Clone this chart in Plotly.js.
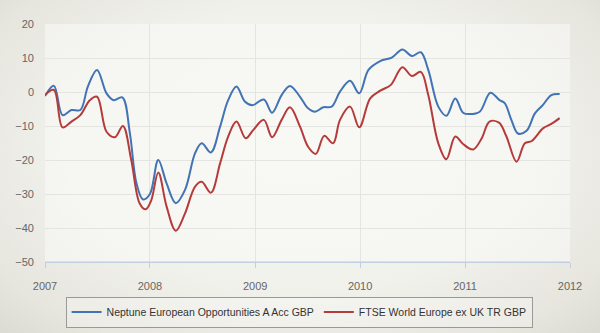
<!DOCTYPE html>
<html>
<head>
<meta charset="utf-8">
<script src="https://cdn.plot.ly/plotly-3.0.1.min.js"></script>
<style>
html,body{margin:0;padding:0;}
body{width:600px;height:333px;overflow:hidden;
background: radial-gradient(ellipse at 50% 45%, #f6f6f2 0%, #f1f1ec 55%, #e6e5de 85%, #dcdbd3 100%);}
#chart{width:600px;height:333px;}
</style>
</head>
<body>
<div id="chart"></div>
<script>
// Series names
const seriesNames = ["Neptune European Opportunities A Acc GBP", "FTSE World Europe ex UK TR GBP"];

// Neptune European Opportunities A Acc GBP (% growth)
const neptuneDates = ["2007-01-01","2007-02-01","2007-03-03","2007-04-03","2007-05-04","2007-05-30","2007-07-01","2007-08-03","2007-08-28","2007-09-27","2007-10-23","2007-11-15","2007-12-08","2008-01-01","2008-01-30","2008-02-28","2008-03-31","2008-05-02","2008-06-06","2008-06-29","2008-07-31","2008-09-01","2008-09-29","2008-10-28","2008-11-26","2008-12-22","2009-01-31","2009-03-01","2009-04-03","2009-05-02","2009-06-06","2009-07-04","2009-07-28","2009-08-26","2009-09-24","2009-10-23","2009-11-27","2009-12-29","2010-01-30","2010-03-12","2010-04-21","2010-05-28","2010-06-30","2010-07-31","2010-08-26","2010-09-30","2010-10-28","2010-11-28","2010-12-25","2011-01-17","2011-02-21","2011-03-30","2011-05-01","2011-05-19","2011-06-11","2011-07-04","2011-08-03","2011-09-01","2011-09-29","2011-10-28","2011-11-26"];
const neptuneValues = [-1.2,1.8,-6.8,-5.3,-5.3,1.6,6.5,-0.4,-2.4,-1.6,-12,-26.8,-31.6,-30,-20,-26.9,-32.7,-28.8,-18,-15.1,-17.8,-10.2,-2.4,1.6,-2.8,-3.9,-2.2,-6.1,-0.9,1.8,-1.4,-4.8,-5.8,-4.5,-4.3,0.1,3.3,-0.4,6.5,9.1,10.1,12.5,10.6,11.7,6.5,-4.3,-7,-1.9,-6.1,-6.5,-5.8,-0.2,-2.4,-3.3,-8.2,-12.2,-11.4,-6.3,-3.8,-0.9,-0.6];

// FTSE World Europe ex UK TR GBP (% growth)
const ftseDates = ["2007-01-01","2007-02-01","2007-03-03","2007-04-03","2007-05-04","2007-06-06","2007-07-01","2007-08-03","2007-09-01","2007-09-29","2007-10-28","2007-11-26","2007-12-17","2008-01-05","2008-01-30","2008-02-28","2008-03-31","2008-05-02","2008-06-06","2008-06-29","2008-07-31","2008-09-01","2008-09-29","2008-10-28","2008-11-29","2008-12-25","2009-01-31","2009-03-01","2009-04-03","2009-05-02","2009-06-06","2009-07-04","2009-07-31","2009-08-29","2009-09-29","2009-10-23","2009-11-27","2009-12-29","2010-02-05","2010-03-12","2010-04-18","2010-05-28","2010-06-30","2010-07-31","2010-08-26","2010-09-30","2010-10-28","2010-11-28","2010-12-25","2011-01-29","2011-02-28","2011-03-27","2011-04-29","2011-05-25","2011-06-29","2011-07-28","2011-08-21","2011-09-29","2011-10-28","2011-11-26"];
const ftseValues = [-0.9,0.6,-10.4,-8.7,-6.8,-2.4,-1.4,-11.7,-13.3,-10,-20,-32.7,-34.5,-32,-23.7,-33.7,-40.8,-35.7,-27.8,-26.4,-29.6,-21,-13.1,-8.7,-13.6,-11.2,-8.2,-13.3,-8.2,-4.5,-10.2,-16.1,-18.2,-12.9,-15.1,-8.2,-4.3,-10.4,-1.9,0.4,2.1,7.3,4.7,5.9,-0.9,-15.1,-19.8,-13.1,-15.3,-16.9,-13.6,-8.7,-9,-13.1,-20.5,-15.1,-14.4,-10.7,-9.4,-7.7];

// Axis ticks
const xTickVals = ["2007-01-01","2008-01-01","2009-01-01","2010-01-01","2011-01-01","2012-01-01"];
const xTickText = ["2007","2008","2009","2010","2011","2012"];
const yTickVals = [-50,-40,-30,-20,-10,0,10,20];

const colors = ["#4173b5", "#b53b3b"];

const traces = [
  {x: neptuneDates, y: neptuneValues, name: seriesNames[0], type: "scatter", mode: "lines",
   line: {color: colors[0], width: 2, shape: "spline", smoothing: 1}},
  {x: ftseDates, y: ftseValues, name: seriesNames[1], type: "scatter", mode: "lines",
   line: {color: colors[1], width: 2, shape: "spline", smoothing: 1}}
];

const layout = {
  width: 600, height: 333,
  margin: {l: 45, r: 30, t: 24, b: 71, autoexpand: false},
  paper_bgcolor: "rgba(0,0,0,0)",
  plot_bgcolor: "rgba(250,250,247,0.55)",
  font: {family: "'Liberation Sans', Arial, sans-serif", size: 11, color: "#666"},
  showlegend: true,
  xaxis: {
    type: "date",
    range: ["2007-01-01", "2012-01-01"],
    tickmode: "array", tickvals: xTickVals, ticktext: xTickText,
    showgrid: true, gridcolor: "#e4e4e0", gridwidth: 1,
    showline: true, linecolor: "#c0d0e0", linewidth: 1,
    ticks: "outside", ticklen: 5, tickcolor: "#c0d0e0",
    tickfont: {size: 11, color: "#666"},
    ticklabelstandoff: 9,
    zeroline: false
  },
  yaxis: {
    range: [-50, 20],
    tickmode: "array", tickvals: yTickVals,
    showgrid: true, gridcolor: "#e4e4e0", gridwidth: 1,
    showline: false, zeroline: false,
    ticks: "", tickfont: {size: 11, color: "#666"},
    ticklabelstandoff: 10
  },
  legend: {
    orientation: "h",
    x: 0.484, xanchor: "center",
    y: -0.145, yanchor: "top",
    bordercolor: "#999", borderwidth: 1,
    bgcolor: "rgba(255,255,255,0.25)",
    font: {size: 10.5, color: "#333"},
    itemwidth: 30
  },
  shapes: [
    {type: "line", xref: "paper", yref: "y", x0: 0, x1: 1, y0: -50, y1: -50,
     line: {color: "#c0d0e0", width: 1}}
  ]
};

Plotly.newPlot("chart", traces, layout, {staticPlot: true, displayModeBar: false});
</script>
</body>
</html>
